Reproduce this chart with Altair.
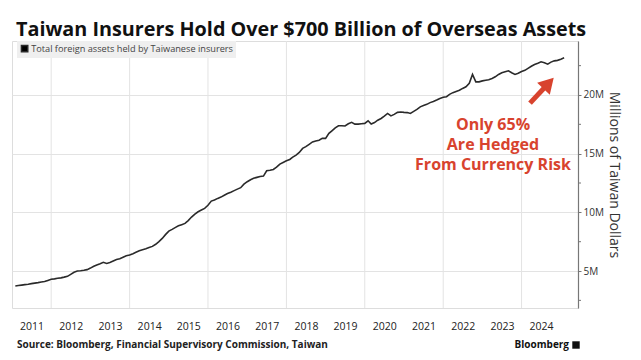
import altair as alt
import pandas as pd

# ---- data (millions of TWD), monthly ----
v2011 = [3.72, 3.76, 3.80, 3.84, 3.88, 3.93, 3.97, 4.01, 4.06, 4.10, 4.20]          # Feb-Dec
v2012 = [4.30, 4.33, 4.38, 4.42, 4.48, 4.55, 4.72, 4.90, 5.00, 5.02, 5.06, 5.12]
v2013 = [5.25, 5.40, 5.52, 5.62, 5.74, 5.65, 5.72, 5.85, 5.98, 6.05, 6.18, 6.30]
v2014 = [6.36, 6.48, 6.60, 6.73, 6.82, 6.90, 7.00, 7.10, 7.28, 7.50, 7.78, 8.10]
v2015 = [8.40, 8.55, 8.70, 8.85, 8.95, 9.06, 9.30, 9.60, 9.85, 10.05, 10.20, 10.34]
v2016 = [10.60, 10.96, 11.05, 11.19, 11.30, 11.45, 11.60, 11.72, 11.85, 11.98, 12.10, 12.40]
v2017 = [12.61, 12.78, 12.90, 12.98, 13.05, 13.09, 13.54, 13.58, 13.66, 13.85, 14.11, 14.25]
v2018 = [14.40, 14.51, 14.70, 14.88, 15.10, 15.45, 15.60, 15.80, 16.00, 16.08, 16.15, 16.30]
v2019 = [16.30, 16.73, 16.95, 17.20, 17.38, 17.38, 17.36, 17.55, 17.67, 17.52, 17.52, 17.55]
v2020 = [17.58, 17.80, 17.52, 17.65, 17.85, 18.00, 18.20, 18.43, 18.22, 18.35, 18.52, 18.55]
v2021 = [18.52, 18.50, 18.43, 18.60, 18.77, 18.99, 19.10, 19.20, 19.35, 19.45, 19.57, 19.70]
v2022 = [19.80, 19.85, 20.05, 20.20, 20.30, 20.40, 20.56, 20.70, 21.00, 21.75, 21.12, 21.12]
v2023 = [21.20, 21.25, 21.30, 21.41, 21.55, 21.75, 21.90, 21.98, 22.06, 21.90, 21.75, 21.85]
v2024 = [22.00, 22.10, 22.27, 22.45, 22.60, 22.70, 22.83, 22.75, 22.63, 22.80, 22.91, 22.95]
v2025 = [23.05, 23.17]                                                              # Jan-Feb

series_name = "Total foreign assets held by Taiwanese insurers"
title_text = "Taiwan Insurers Hold Over $700 Billion of Overseas Assets"
source_text = "Source: Bloomberg, Financial Supervisory Commission, Taiwan"
y_title = "Millions of Taiwan Dollars"
ann_text = "Only 65%\nAre Hedged\nFrom Currency Risk"
ann_date = "2023-04-10"
ann_value = 17.48          # first line of the note
arrow_dates = ["2024-03-20", "2024-09-09"]
arrow_values = [19.31, 21.0]

label_years = list(range(2011, 2025))
grid_years = ["2012-01-01", "2014-01-01", "2016-01-01", "2018-01-01",
              "2020-01-01", "2022-01-01", "2024-01-01"]
y_major = [5, 10, 15, 20]
y_minor = [2.5, 7.5, 12.5, 17.5, 22.5]

rows = []
for year, vals, start in [(2011, v2011, 2), (2012, v2012, 1), (2013, v2013, 1), (2014, v2014, 1),
                          (2015, v2015, 1), (2016, v2016, 1), (2017, v2017, 1), (2018, v2018, 1),
                          (2019, v2019, 1), (2020, v2020, 1), (2021, v2021, 1), (2022, v2022, 1),
                          (2023, v2023, 1), (2024, v2024, 1), (2025, v2025, 1)]:
    for i, v in enumerate(vals):
        rows.append({"date": f"{year}-{start + i:02d}-01", "value": v, "series": series_name})
df = pd.DataFrame(rows)

W, H = 566, 267
RED = "#d8432e"
FONT = "Open Sans"
GRID = "#e3e3e3"

x_scale = alt.Scale(domain=[alt.DateTime(year=2011, month=1, date=1),
                            alt.DateTime(year=2025, month=6, date=10)])
y_scale = alt.Scale(domain=[1.85, 24.6], nice=False, zero=False)

x_axis = alt.Axis(
    values=[alt.DateTime(year=y, month=1, date=1) for y in label_years],
    format="%Y", labelOffset=19.5, labelPadding=13, labelFontSize=10.5, labelFont=FONT,
    labelColor="#222", ticks=False, domain=False, title=None, grid=False,
    labelFlush=False, labelOverlap=False,
)
y_axis = alt.Axis(
    orient="right", values=y_major, labelExpr="datum.value + 'M'",
    labelFontSize=10, labelFont=FONT, labelColor="#333", labelPadding=2,
    labelOverlap=False, labelFlush=False,
    tickSize=3, tickColor="#777", domainColor="#777", domainWidth=1.2,
    grid=True, gridColor=GRID,
    title=y_title, titleFontSize=14, titleFont=FONT, titleFontWeight="normal",
    titleColor="#333", titlePadding=3, titleAngle=90,
)

vgrid = alt.Chart(pd.DataFrame({"date": grid_years})).mark_rule(color=GRID, strokeWidth=1).encode(
    x=alt.X("date:T", scale=x_scale, axis=x_axis))

minor = alt.Chart(pd.DataFrame({"v": y_minor})).mark_rule(color="#777", strokeWidth=1).encode(
    y=alt.Y("v:Q", scale=y_scale, axis=y_axis), x=alt.value(W), x2=alt.value(W + 3))

line = alt.Chart(df).mark_line(strokeWidth=1.6).encode(
    x=alt.X("date:T", scale=x_scale),
    y=alt.Y("value:Q", scale=y_scale),
    color=alt.Color("series:N", scale=alt.Scale(range=["#2a2a2a"]),
                    legend=alt.Legend(orient="none", legendX=5, legendY=0, title=None,
                                      fillColor="#efefef", padding=3,
                                      symbolType="square", symbolFillColor="#000",
                                      symbolStrokeColor="#000", symbolSize=40,
                                      labelFontSize=9.2, labelFont=FONT, labelColor="#444",
                                      labelOffset=2, labelLimit=400)),
)

ann = alt.Chart(pd.DataFrame({"date": [ann_date], "value": [ann_value], "t": [ann_text]})).mark_text(
    color=RED, fontSize=16, fontWeight="bold", font=FONT, align="center", baseline="middle",
    lineBreak="\n", lineHeight=20,
).encode(x=alt.X("date:T", scale=x_scale), y=alt.Y("value:Q", scale=y_scale), text="t:N")

arrow_df = pd.DataFrame({"d1": [arrow_dates[0]], "v1": [arrow_values[0]],
                         "d2": [arrow_dates[1]], "v2": [arrow_values[1]]})
shaft = alt.Chart(arrow_df).mark_rule(color=RED, strokeWidth=5).encode(
    x=alt.X("d1:T", scale=x_scale), y=alt.Y("v1:Q", scale=y_scale), x2="d2:T", y2="v2:Q")
head = alt.Chart(arrow_df).mark_point(shape="triangle-up", filled=True, color=RED,
                                      size=300, angle=43, opacity=1).encode(
    x=alt.X("d2:T", scale=x_scale), y=alt.Y("v2:Q", scale=y_scale))

src = alt.Chart(pd.DataFrame({"t": [source_text]})).mark_text(
    align="left", baseline="middle", fontSize=10, fontWeight="bold", font=FONT, color="#222",
).encode(x=alt.value(5), y=alt.value(H + 37), text="t:N")

brand = alt.Chart(pd.DataFrame({"t": ["Bloomberg"]})).mark_text(
    align="right", baseline="middle", fontSize=10, fontWeight="bold", font=FONT, color="#111",
).encode(x=alt.value(557), y=alt.value(H + 37), text="t:N")
brand_icon = alt.Chart(pd.DataFrame({"t": ["icon"]})).mark_point(
    shape="square", filled=True, color="#111", size=55, opacity=1,
).encode(x=alt.value(564), y=alt.value(H + 37))

chart = alt.layer(vgrid, minor, line, ann, shaft, head, src, brand, brand_icon).properties(
    width=W, height=H,
    autosize=alt.AutoSizeParams(type="none"),
    padding={"left": 4, "top": 33, "right": 55, "bottom": 44},
    title=alt.TitleParams(title_text, anchor="start", frame="group", fontSize=19.8,
                          fontWeight="bold", font=FONT, color="#111", offset=6,
                          baseline="alphabetic", dx=4, dy=21),
).configure_view(stroke=None).configure(background="white")

chart.save("out.html", embed_options={"renderer": "svg", "actions": False})
